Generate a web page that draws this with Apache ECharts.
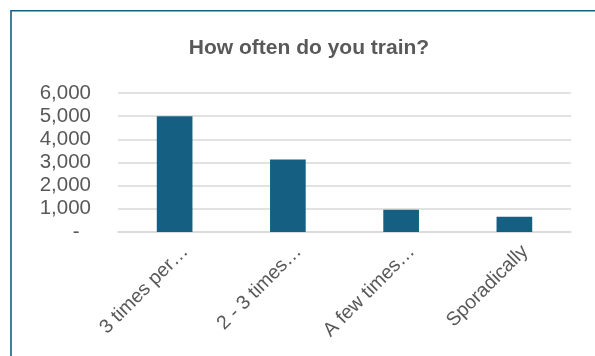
<!DOCTYPE html>
<html>
<head>
<meta charset="utf-8">
<title>How often do you train?</title>
<script src="https://cdn.jsdelivr.net/npm/echarts@6/dist/echarts.min.js"></script>
<style>
  html, body { margin: 0; padding: 0; background: #ffffff; }
  #chart { width: 595px; height: 356px; }
</style>
</head>
<body>
<div id="chart"></div>
<script>
// Survey answers: training frequency
const categories = ['3 times per…', '2 - 3 times…', 'A few times…', 'Sporadically'];
const respondents = [5000, 3130, 960, 660];
const yTicks = { min: 0, max: 6000, interval: 1000 };

const FONT = '"Liberation Sans", Arial, sans-serif';
const TEXT_GREY = '#595959';
const GRID_GREY = '#d9d9d9';
const BAR_BLUE = '#156082';

function accountingLabel(v) {
  if (v === 0) return '-  ';
  return v.toLocaleString('en-US');
}

const chart = echarts.init(document.getElementById('chart'), null, { renderer: 'canvas' });

chart.setOption({
  animation: false,
  backgroundColor: '#ffffff',
  title: {
    text: 'How often do you train?',
    left: 304,
    top: 33,
    textAlign: 'center',
    textStyle: { fontFamily: FONT, fontSize: 21, fontWeight: 'bold', color: TEXT_GREY }
  },
  graphic: [{
    type: 'rect',
    silent: true,
    shape: { x: 11, y: 10.75, width: 800, height: 600 },
    style: { fill: 'none', stroke: BAR_BLUE, lineWidth: 1.6 }
  }],
  grid: { left: 118, right: 24, top: 93, bottom: 124, containLabel: false },
  xAxis: {
    type: 'category',
    data: categories,
    axisLine: { show: true, lineStyle: { color: GRID_GREY, width: 1.5 } },
    axisTick: { show: false },
    axisLabel: {
      rotate: 45,
      margin: 6,
      interval: 0,
      align: 'right',
      verticalAlign: 'top',
      padding: [5, 0, 0, 0],
      fontFamily: FONT,
      fontSize: 19.5,
      color: TEXT_GREY
    }
  },
  yAxis: {
    type: 'value',
    min: yTicks.min,
    max: yTicks.max,
    interval: yTicks.interval,
    axisLine: { show: false },
    axisTick: { show: false },
    splitLine: { show: true, lineStyle: { color: GRID_GREY, width: 1.5 } },
    axisLabel: {
      margin: 27,
      fontFamily: FONT,
      fontSize: 20.5,
      color: TEXT_GREY,
      formatter: accountingLabel
    }
  },
  series: [{
    type: 'bar',
    data: respondents,
    barWidth: '31.5%',
    itemStyle: { color: BAR_BLUE }
  }]
});
</script>
</body>
</html>
